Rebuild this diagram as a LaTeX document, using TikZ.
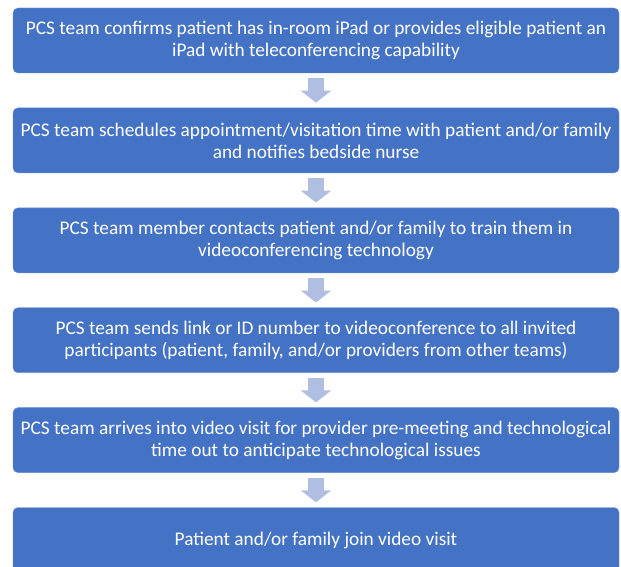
\documentclass[tikz,border=0pt]{standalone}
\usepackage{fontspec}
\setmainfont{Carlito}
\usetikzlibrary{positioning,arrows.meta}
\definecolor{stepblue}{RGB}{68,114,196}
\definecolor{arrowblue}{RGB}{176,190,226}

\begin{document}
\begin{tikzpicture}[
  stepbox/.style={fill=stepblue, draw=stepblue!80!white, rounded corners=5pt,
    minimum width=606pt, minimum height=65pt, align=center,
    text=white, font=\fontsize{19.3}{22}\selectfont},
  flow/.style={draw=arrowblue, line width=16pt, shorten <=5pt, shorten >=5pt,
    -{Triangle[width=30pt,length=12pt,fill=arrowblue]}},
  node distance=34.5pt]
  \useasboundingbox (0,0) rectangle (621pt,-567pt);
  \node[stepbox] (s1) at (316pt,-40.5pt) {PCS team confirms patient has in-room iPad or provides eligible patient an\\iPad with teleconferencing capability};
  \node[stepbox, below=of s1] (s2) {PCS team schedules appointment/visitation time with patient and/or family\\and notifies bedside nurse};
  \node[stepbox, below=of s2] (s3) {PCS team member contacts patient and/or family to train them in\\videoconferencing technology};
  \node[stepbox, below=of s3] (s4) {PCS team sends link or ID number to videoconference to all invited\\participants (patient, family, and/or providers from other teams)};
  \node[stepbox, below=of s4] (s5) {PCS team arrives into video visit for provider pre-meeting and technological\\time out to anticipate technological issues};
  \node[stepbox, below=of s5] (s6) {Patient and/or family join video visit};
  % arrows between the steps
  \foreach \a/\b in {s1/s2,s2/s3,s3/s4,s4/s5,s5/s6}
    \draw[flow] (\a) -- (\b);
\end{tikzpicture}
\end{document}
